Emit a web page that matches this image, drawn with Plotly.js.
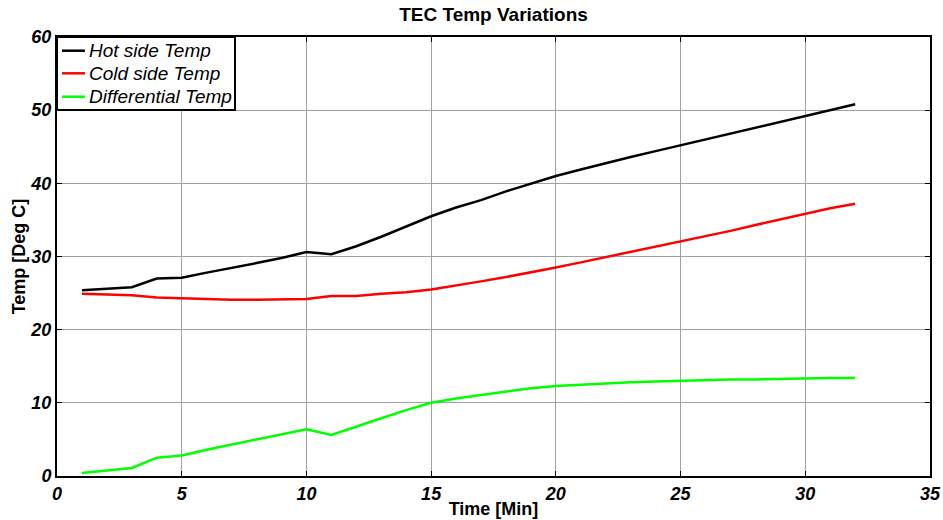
<!DOCTYPE html>
<html><head><meta charset="utf-8">
<script src="https://cdn.plot.ly/plotly-3.0.1.min.js"></script>
<style>html,body{margin:0;padding:0;background:#fff}#chart{width:943px;height:520px}</style>
</head><body><div id="chart"></div>
<script>
const minutes = [1,2,3,4,5,6,7,8,9,10,11,12,13,14,15,16,17,18,19,20,21,22,23,24,25,26,27,28,29,30,31,32];
const hotSide = [25.4,25.6,25.8,27.0,27.1,27.8,28.4,29.1,29.8,30.6,30.3,31.4,32.7,34.1,35.5,36.7,37.7,38.9,40.0,41.0,41.9,42.8,43.6,44.4,45.2,46.0,46.8,47.6,48.4,49.2,50.0,50.8];
const coldSide = [24.9,24.8,24.7,24.4,24.3,24.2,24.1,24.1,24.1,24.2,24.6,24.6,24.9,25.1,25.5,26.0,26.6,27.2,27.8,28.5,29.2,29.9,30.6,31.3,32.1,32.8,33.5,34.3,35.1,35.9,36.6,37.2];
const differential = [0.4,0.8,1.1,2.5,2.8,3.6,4.3,5.0,5.7,6.4,5.6,6.8,7.9,9.0,10.0,10.6,11.1,11.6,12.0,12.3,12.5,12.7,12.8,12.9,13.0,13.1,13.2,13.2,13.3,13.3,13.4,13.4];
const seriesNames = ['Hot side Temp','Cold side Temp','Differential Temp'];
const xTicks = [0,5,10,15,20,25,30,35];
const yTicks = [0,10,20,30,40,50,60];

const colors = ['#000000','#ff0000','#00ff00'];
const ys = [hotSide, coldSide, differential];
const traces = ys.map((y,i)=>({x:minutes,y:y,type:'scatter',mode:'lines',name:seriesNames[i],showlegend:false,line:{color:colors[i],width:2.5}}));

const FAM = 'Liberation Sans, Arial, sans-serif';
const tickFont = {family:FAM,size:18,color:'#000',weight:'bold',style:'italic'};
const axisCommon = {showline:true,linecolor:'#000',linewidth:2,mirror:'ticks',ticks:'inside',ticklen:5,tickcolor:'#000',tickwidth:1,
  showgrid:true,gridcolor:'#a0a0a0',gridwidth:1,zeroline:false,tickfont:tickFont};

// legend box (paper coordinates of the plot area)
const legRows = [0.9688, 0.9173, 0.864];
const shapes = [{type:'rect',xref:'paper',yref:'paper',x0:0,x1:0.2039,y0:0.8337,y1:1,line:{color:'#000',width:2},fillcolor:'#fff',layer:'above'}];
const annotations = [];
seriesNames.forEach((n,i)=>{
  shapes.push({type:'line',xref:'paper',yref:'paper',x0:0.0057,x1:0.032,y0:legRows[i],y1:legRows[i],line:{color:colors[i],width:2.5},layer:'above'});
  annotations.push({xref:'paper',yref:'paper',x:0.0345,y:legRows[i],xanchor:'left',yanchor:'middle',showarrow:false,text:n,
    font:{family:FAM,size:19,color:'#000',style:'italic'}});
});

Plotly.newPlot('chart', traces, {
  width:943,height:520,
  margin:{l:57,r:13,t:37,b:44},
  paper_bgcolor:'#fff',plot_bgcolor:'#fff',
  title:{text:'TEC Temp Variations',font:{family:FAM,size:19,color:'#000',weight:'bold'},xref:'paper',x:0.5,xanchor:'center',y:0.985,yanchor:'top'},
  xaxis:Object.assign({},axisCommon,{range:[0,35],tickvals:xTicks,ticktext:xTicks.map(String),
    title:{text:'Time [Min]',font:{family:FAM,size:18,color:'#000',weight:'bold'},standoff:0}}),
  yaxis:Object.assign({},axisCommon,{range:[0,60],tickvals:yTicks,ticktext:yTicks.map(String),
    title:{text:'Temp [Deg C]',font:{family:FAM,size:18,color:'#000',weight:'bold'},standoff:0}}),
  showlegend:false,
  shapes:shapes,
  annotations:annotations
},{displayModeBar:false,staticPlot:true});
</script></body></html>
